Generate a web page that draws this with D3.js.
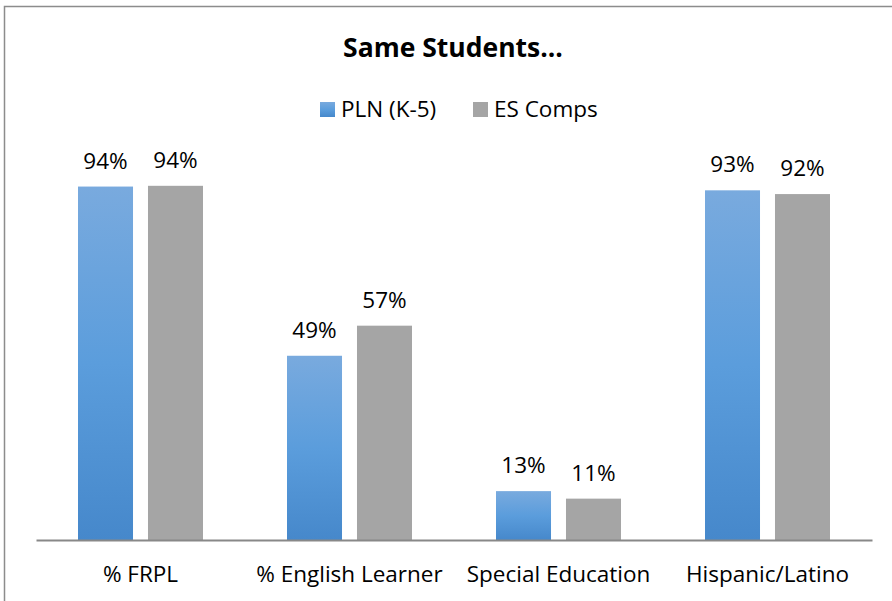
<!DOCTYPE html>
<html>
<head>
<meta charset="utf-8">
<script src="https://cdn.jsdelivr.net/npm/d3@7"></script>
<style>
  body { margin: 0; background: #fff; }
  text { font-family: "Open Sans", "Noto Sans", sans-serif; fill: #000; }
</style>
</head>
<body>
<div id="chart-area"></div>
<script>
// DATA
var categories = ["% FRPL", "% English Learner", "Special Education", "Hispanic/Latino"];
var seriesNames = ["PLN (K-5)", "ES Comps"];
var plnValues = [94, 49, 13, 93];
var compValues = [94.2, 57, 11, 92];
var plnLabels = ["94%", "49%", "13%", "93%"];
var compLabels = ["94%", "57%", "11%", "92%"];

var W = 892, H = 601;
var margin = { left: 36, right: 20, top: 164, bottom: 61 };
var width = W - margin.left - margin.right,
    height = H - margin.top - margin.bottom;

var svg = d3.select("#chart-area")
    .append("svg")
    .attr("width", W)
    .attr("height", H);

// gradient for blue bars
var grad = svg.append("defs").append("linearGradient")
    .attr("id", "blueGrad")
    .attr("x1", 0).attr("y1", 0).attr("x2", 0).attr("y2", 1);
grad.append("stop").attr("offset", "0%").attr("stop-color", "#79aade");
grad.append("stop").attr("offset", "50%").attr("stop-color", "#5b9ddc");
grad.append("stop").attr("offset", "100%").attr("stop-color", "#4688cb");

// chart border
svg.append("rect")
    .attr("x", 4.5).attr("y", 6.5)
    .attr("width", W + 10).attr("height", H + 10)
    .attr("fill", "none")
    .attr("stroke", "#8c8c8c")
    .attr("stroke-width", 1.5);

var g = svg.append("g")
    .attr("transform", "translate(" + margin.left + "," + margin.top + ")");

// SCALES
var x0 = d3.scaleBand()
    .domain(categories)
    .range([0, width])
    .paddingInner(0)
    .paddingOuter(0);

var x1 = d3.scaleBand()
    .domain(seriesNames)
    .range([42, x0.bandwidth() - 42])
    .paddingInner(0.214);

var y = d3.scaleLinear()
    .domain([0, 100])
    .range([height, 0]);

var rows = categories.map(function (c, i) {
    return {
        cat: c,
        vals: [
            { s: seriesNames[0], v: plnValues[i], label: plnLabels[i] },
            { s: seriesNames[1], v: compValues[i], label: compLabels[i] }
        ]
    };
});

var groups = g.selectAll(".grp")
    .data(rows)
    .enter().append("g")
    .attr("transform", function (d) { return "translate(" + x0(d.cat) + ",0)"; });

groups.selectAll("rect")
    .data(function (d) { return d.vals; })
    .enter().append("rect")
    .attr("x", function (d) { return x1(d.s); })
    .attr("y", function (d) { return y(d.v); })
    .attr("width", x1.bandwidth())
    .attr("height", function (d) { return height - y(d.v); })
    .attr("fill", function (d) { return d.s === seriesNames[0] ? "url(#blueGrad)" : "#a5a5a5"; });

groups.selectAll(".val")
    .data(function (d) { return d.vals; })
    .enter().append("text")
    .attr("x", function (d) { return x1(d.s) + x1.bandwidth() / 2; })
    .attr("y", function (d) { return y(d.v) - 18; })
    .attr("text-anchor", "middle")
    .attr("font-size", "22.5px")
    .text(function (d) { return d.label; });

// X AXIS
var xAxis = g.append("g")
    .attr("transform", "translate(0," + height + ")")
    .call(d3.axisBottom(x0).tickSize(0).tickPadding(26));
xAxis.select(".domain").attr("stroke", "#888").attr("stroke-width", 2);
xAxis.selectAll("text")
    .attr("font-size", "22.5px")
    .attr("font-family", "'Open Sans', sans-serif")
    .attr("fill", "#000");

// TITLE
svg.append("text")
    .attr("x", 453)
    .attr("y", 57)
    .attr("text-anchor", "middle")
    .attr("font-size", "26.5px")
    .attr("font-weight", "bold")
    .text("Same Students...");

// LEGEND
var legendX = [320, 473];
var legend = svg.selectAll(".leg")
    .data(seriesNames)
    .enter().append("g")
    .attr("transform", function (d, i) { return "translate(" + legendX[i] + ",102)"; });
legend.append("rect")
    .attr("width", 15).attr("height", 15)
    .attr("fill", function (d, i) { return i === 0 ? "url(#blueGrad)" : "#a5a5a5"; });
legend.append("text")
    .attr("x", 21)
    .attr("y", 15)
    .attr("font-size", "22.5px")
    .text(function (d) { return d; });
</script>
</body>
</html>
